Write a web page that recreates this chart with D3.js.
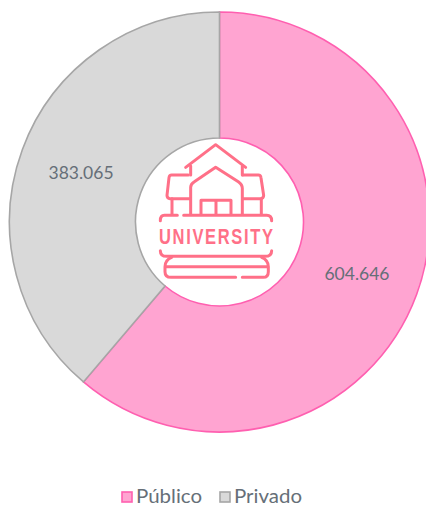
<!DOCTYPE html>
<html><head><meta charset="utf-8">
<script src="https://cdn.jsdelivr.net/npm/d3@7/dist/d3.min.js"></script>
<style>html,body{margin:0;padding:0;background:#fff}svg{display:block}</style>
</head><body><svg id="c" width="426" height="506"></svg>
<script>
const categories = ["Público", "Privado"];
const values = [604646, 383065];
const labels = ["604.646", "383.065"];
const fills = ["#FFA4D1", "#D9D9D9"];
const strokes = ["#FF5FB0", "#A6A6A6"];
const iconPaths = [
 "M182 112 L272 44 L362 112", "M197 108 V135", "M352 108 V135",
 "M197 252 V172 Q197 162 208 155 L272 112 L340 155 Q352 163 352 175 V252",
 "M228 252 V211 H318 V252", "M273 214 V252",
 "M190 135 H140 Q133 135 132 143 L126 196 Q126 206 135 206 H195",
 "M354 135 H400 Q407 135 408 143 L416 196 Q416 206 407 206 H354",
 "M141 206 V252", "M409 206 V252",
 "M157 256 H118 Q106 256 106 272", "M176 256 H425 Q440 256 440 272",
 "M106 362 Q106 379 125 379 H420 Q440 379 440 362",
 "M140 382 Q120 390 120 410 V425 Q120 442 138 442 H332",
 "M410 382 Q430 390 430 410 V425 Q430 442 415 442 H352",
 "M122 410 H428"
];
const svg = d3.select("#c");
const cx = 219.5, cy = 222, R = 210, r = 84;
const g = svg.append("g").attr("transform", `translate(${cx},${cy})`);
const pie = d3.pie().sort(null)(values);
const arc = d3.arc().innerRadius(r).outerRadius(R);
g.selectAll("path").data(pie).join("path")
 .attr("d", arc).attr("fill", (d,i)=>fills[i]).attr("stroke", (d,i)=>strokes[i]).attr("stroke-width", 1.6);
const labelArc = d3.arc().innerRadius(147).outerRadius(147);
const font = "Lato, 'Open Sans', sans-serif";
g.selectAll("text").data(pie).join("text")
 .attr("transform", d => { const p = labelArc.centroid(d); return `translate(${p[0]-0.5},${p[1]+1.5})`; })
 .attr("text-anchor","middle").attr("dy","0.35em")
 .attr("font-family",font).attr("font-size",17.5).attr("fill","#666F78")
 .text((d,i)=>labels[i]);
const icon = svg.append("g").attr("transform","translate(125,130) scale(0.3333)");
icon.selectAll("path").data(iconPaths).join("path").attr("d",d=>d)
 .attr("fill","none").attr("stroke","#FF7088").attr("stroke-width",9).attr("stroke-linecap","round").attr("stroke-linejoin","round");
svg.append("text").attr("transform","translate(159,243.5) scale(0.75,1)").attr("textLength",152).attr("lengthAdjust","spacing")
 .attr("font-family","'Liberation Sans',sans-serif").attr("font-weight",700).attr("font-size",22).attr("fill","#FF7088").text("UNIVERSITY");
const leg = svg.append("g");
const lx = [122, 220], tx = [136, 234], tl = [66, 68];
categories.forEach((c,i)=>{
 leg.append("rect").attr("x",lx[i]).attr("y",492).attr("width",10).attr("height",10).attr("fill",fills[i]).attr("stroke",strokes[i]).attr("stroke-width",1.6);
 leg.append("text").attr("x",tx[i]).attr("y",503).attr("textLength",tl[i]).attr("lengthAdjust","spacingAndGlyphs").attr("font-family",font).attr("font-size",19.5).attr("fill","#666F78").text(c);
});
</script></body></html>
